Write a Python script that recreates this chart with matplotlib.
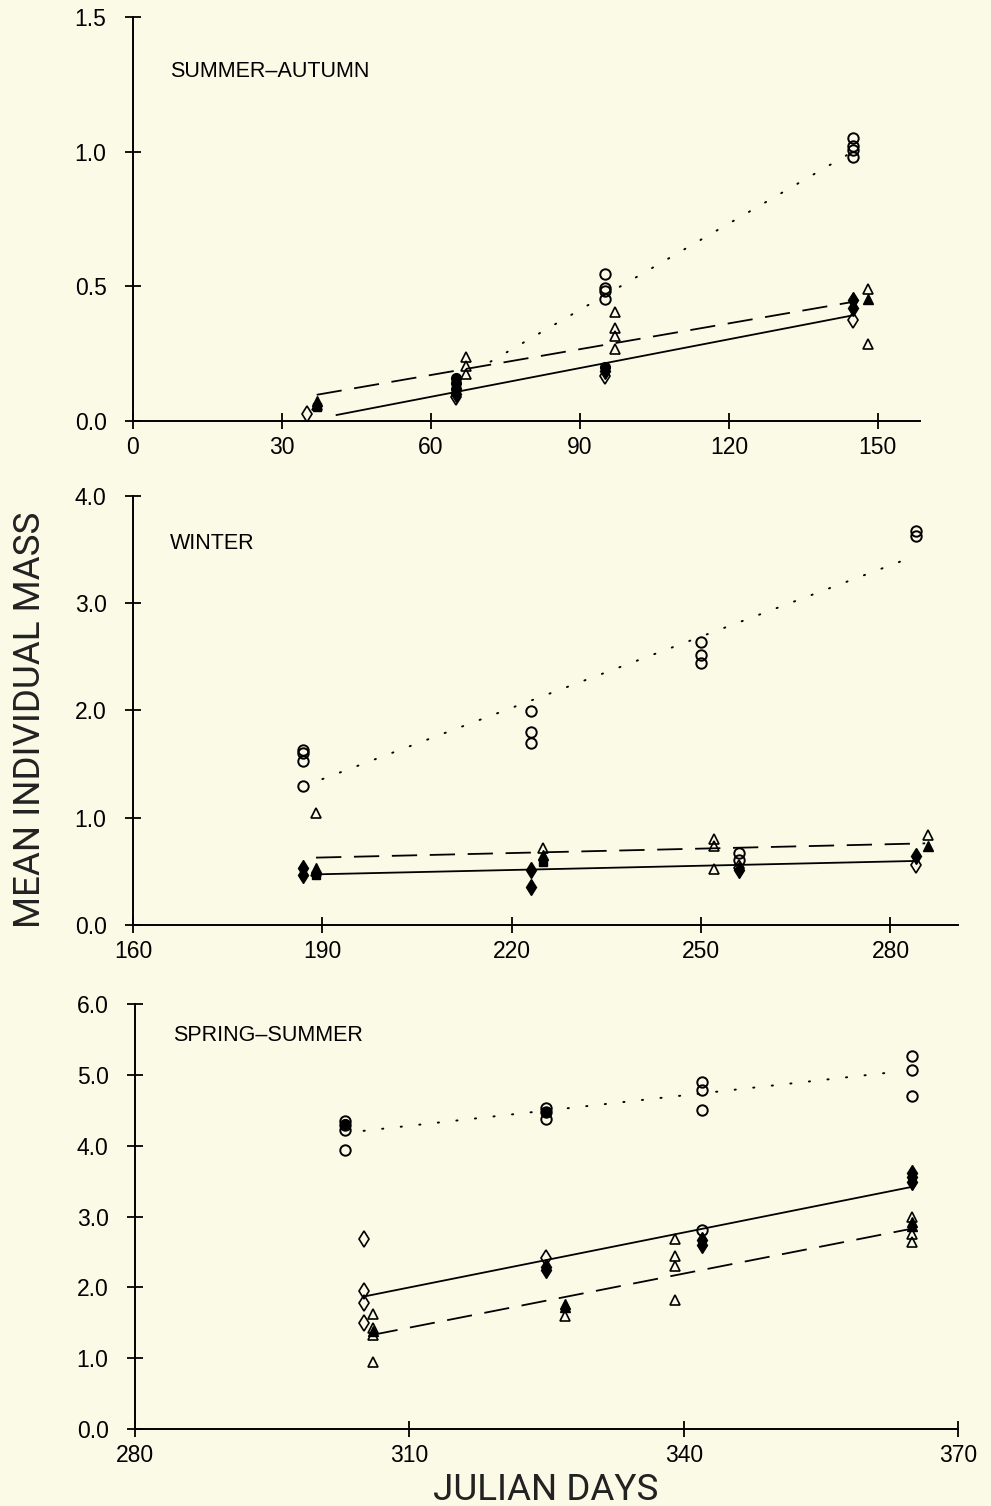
import matplotlib.pyplot as plt

plt.rcParams['font.family'] = ['Liberation Sans', 'DejaVu Sans']

# ---- SUMMER-AUTUMN ----
sa_ocirc_x = [95, 95, 95, 95, 145, 145, 145, 145]
sa_ocirc_y = [0.545, 0.494, 0.481, 0.451, 1.052, 1.022, 1.004, 0.978]
sa_fcirc_x = [65, 65, 65, 95]
sa_fcirc_y = [0.16, 0.14, 0.12, 0.20]
sa_odia_x = [35, 65, 95, 145]
sa_odia_y = [0.025, 0.09, 0.168, 0.376]
sa_fdia_x = [65, 95, 145, 145]
sa_fdia_y = [0.10, 0.187, 0.448, 0.42]
sa_otri_x = [37, 67, 67, 67, 97, 97, 97, 97, 148, 148]
sa_otri_y = [0.06, 0.239, 0.205, 0.174, 0.404, 0.346, 0.317, 0.267, 0.488, 0.286]
sa_ftri_x = [37, 148]
sa_ftri_y = [0.075, 0.454]
sa_fsq_x = [37]
sa_fsq_y = [0.05]
sa_dot_x, sa_dot_y = [72, 145], [0.22, 1.0]
sa_dash_x, sa_dash_y = [37, 145], [0.097, 0.442]
sa_solid_x, sa_solid_y = [41, 145], [0.022, 0.392]

# ---- WINTER ----
wi_ocirc_x = [187, 187, 187, 187, 223, 223, 223, 250, 250, 250, 256, 256, 284, 284]
wi_ocirc_y = [1.63, 1.60, 1.53, 1.30, 1.995, 1.80, 1.70, 2.636, 2.517, 2.44, 0.668, 0.606, 3.67, 3.63]
wi_fcirc_x = []
wi_fcirc_y = []
wi_odia_x = [256, 284]
wi_odia_y = [0.53, 0.56]
wi_fdia_x = [187, 187, 223, 223, 256, 284]
wi_fdia_y = [0.53, 0.47, 0.513, 0.357, 0.51, 0.64]
wi_otri_x = [189, 189, 225, 252, 252, 252, 286]
wi_otri_y = [1.041, 0.50, 0.715, 0.80, 0.74, 0.52, 0.84]
wi_ftri_x = [189, 225, 286]
wi_ftri_y = [0.53, 0.65, 0.74]
wi_fsq_x = [189, 225]
wi_fsq_y = [0.47, 0.59]
wi_dot_x, wi_dot_y = [190, 283], [1.36, 3.42]
wi_dash_x, wi_dash_y = [189, 285.5], [0.628, 0.761]
wi_solid_x, wi_solid_y = [189, 284], [0.472, 0.597]

# ---- SPRING-SUMMER ----
ss_ocirc_x = [303, 303, 303, 303, 325, 325, 325, 342, 342, 342, 342, 365, 365, 365]
ss_ocirc_y = [4.35, 4.29, 4.22, 3.94, 4.53, 4.48, 4.38, 4.90, 4.78, 4.50, 2.81, 5.27, 5.07, 4.70]
ss_fcirc_x = [303, 325]
ss_fcirc_y = [4.30, 4.47]
ss_odia_x = [305, 305, 305, 305, 325]
ss_odia_y = [2.68, 1.95, 1.78, 1.50, 2.41]
ss_fdia_x = [325, 325, 342, 342, 365, 365, 365]
ss_fdia_y = [2.29, 2.24, 2.67, 2.60, 3.61, 3.56, 3.49]
ss_otri_x = [306, 306, 306, 306, 327, 339, 339, 339, 339, 365, 365, 365]
ss_otri_y = [1.62, 1.42, 1.33, 0.95, 1.59, 2.68, 2.44, 2.30, 1.82, 3.0, 2.76, 2.64]
ss_ftri_x = [306, 327, 327, 365, 365]
ss_ftri_y = [1.38, 1.77, 1.72, 2.93, 2.86]
ss_fsq_x = []
ss_fsq_y = []
ss_dot_x, ss_dot_y = [305, 363], [4.21, 5.04]
ss_dash_x, ss_dash_y = [306, 365], [1.33, 2.83]
ss_solid_x, ss_solid_y = [305, 365], [1.87, 3.42]

titles = ['SUMMER\u2013AUTUMN', 'WINTER', 'SPRING\u2013SUMMER']
xticks = [[0, 30, 60, 90, 120, 150], [160, 190, 220, 250, 280], [280, 310, 340, 370]]
yticks = [[0.0, 0.5, 1.0, 1.5], [0.0, 1.0, 2.0, 3.0, 4.0], [0.0, 1.0, 2.0, 3.0, 4.0, 5.0, 6.0]]

bg = '#fafae6'
fig = plt.figure(figsize=(9.91, 15.06), dpi=100, facecolor=bg)

boxes = [[0.1342, 0.7205, 0.7942, 0.2683],
         [0.1342, 0.3858, 0.8325, 0.2849],
         [0.1362, 0.0511, 0.8305, 0.2822]]
xlims = [(0, 158.5), (160, 290.7), (280, 370)]
ylims = [(0, 1.5), (0, 4.0), (0, 6.0)]
label_pos = [(0.047, 0.864), (0.045, 0.89), (0.046, 0.927)]

panels = [
    (sa_ocirc_x, sa_ocirc_y, sa_fcirc_x, sa_fcirc_y, sa_odia_x, sa_odia_y, sa_fdia_x, sa_fdia_y,
     sa_otri_x, sa_otri_y, sa_ftri_x, sa_ftri_y, sa_fsq_x, sa_fsq_y,
     sa_dot_x, sa_dot_y, sa_dash_x, sa_dash_y, sa_solid_x, sa_solid_y),
    (wi_ocirc_x, wi_ocirc_y, wi_fcirc_x, wi_fcirc_y, wi_odia_x, wi_odia_y, wi_fdia_x, wi_fdia_y,
     wi_otri_x, wi_otri_y, wi_ftri_x, wi_ftri_y, wi_fsq_x, wi_fsq_y,
     wi_dot_x, wi_dot_y, wi_dash_x, wi_dash_y, wi_solid_x, wi_solid_y),
    (ss_ocirc_x, ss_ocirc_y, ss_fcirc_x, ss_fcirc_y, ss_odia_x, ss_odia_y, ss_fdia_x, ss_fdia_y,
     ss_otri_x, ss_otri_y, ss_ftri_x, ss_ftri_y, ss_fsq_x, ss_fsq_y,
     ss_dot_x, ss_dot_y, ss_dash_x, ss_dash_y, ss_solid_x, ss_solid_y),
]

for i, p in enumerate(panels):
    ax = fig.add_axes(boxes[i])
    ax.set_facecolor(bg)
    (ocx, ocy, fcx, fcy, odx, ody, fdx, fdy, otx, oty, ftx, fty, fsx, fsy,
     dotx, doty, dashx, dashy, solx, soly) = p

    # regression lines
    ax.plot(dotx, doty, color='k', lw=1.4, linestyle=(0, (0.6, 9)), dash_capstyle='round')
    ax.plot(dashx, dashy, color='k', lw=1.3, linestyle=(0, (14, 7)))
    ax.plot(solx, soly, color='k', lw=1.3)

    # points
    ax.plot(ocx, ocy, 'o', ms=7.5, mfc='none', mec='k', mew=1.4, ls='none')
    ax.plot(fcx, fcy, 'o', ms=7, mfc='k', mec='k', ls='none')
    ax.plot(odx, ody, 'd', ms=8, mfc='none', mec='k', mew=1.2, ls='none')
    ax.plot(fdx, fdy, 'd', ms=8, mfc='k', mec='k', ls='none')
    ax.plot(otx, oty, '^', ms=7, mfc='none', mec='k', mew=1.2, ls='none')
    ax.plot(ftx, fty, '^', ms=7, mfc='k', mec='k', ls='none')
    ax.plot(fsx, fsy, 's', ms=6, mfc='k', mec='k', ls='none')

    ax.set_xlim(*xlims[i])
    ax.set_ylim(*ylims[i])
    ax.set_xticks(xticks[i])
    ax.set_xticklabels([str(t) for t in xticks[i]])
    ax.set_yticks(yticks[i])
    ax.set_yticklabels(['%.1f' % t for t in yticks[i]])
    ax.spines['top'].set_visible(False)
    ax.spines['right'].set_visible(False)
    ax.spines['left'].set_linewidth(1.4)
    ax.spines['bottom'].set_linewidth(1.4)
    ax.tick_params(direction='inout', length=12, width=1.3, labelsize=16.5, pad=5)
    ax.tick_params(axis='y', pad=13)
    ax.text(label_pos[i][0], label_pos[i][1], titles[i], transform=ax.transAxes,
            fontsize=15.5, va='center', ha='left')

fig.text(0.03, 0.522, 'MEAN INDIVIDUAL MASS', rotation=90, fontsize=26.5,
         va='center', ha='center', family=['Roboto', 'Liberation Sans'], color='#222222')
fig.text(0.551, 0.0106, 'JULIAN DAYS', fontsize=26.5, va='center', ha='center',
         family=['Roboto', 'Liberation Sans'], color='#222222')

fig.savefig('out.png', dpi=100, facecolor=bg)
